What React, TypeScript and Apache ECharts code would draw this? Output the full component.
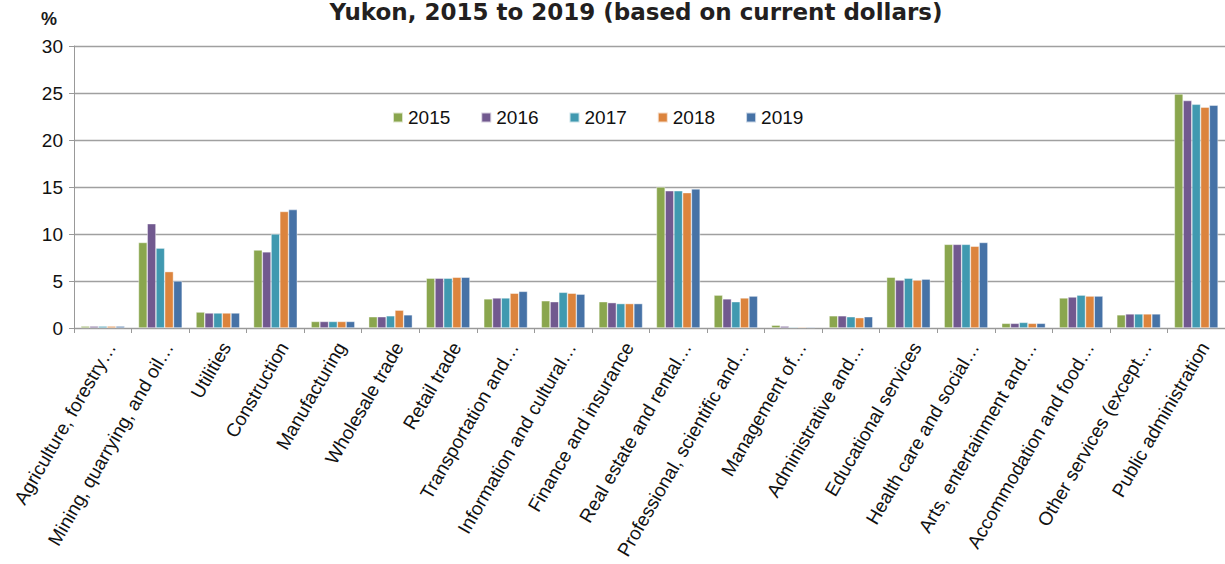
import React, { useEffect, useRef } from "react";
import * as echarts from "echarts";

const categories = [
  "Agriculture, forestry…",
  "Mining, quarrying, and oil…",
  "Utilities",
  "Construction",
  "Manufacturing",
  "Wholesale trade",
  "Retail trade",
  "Transportation and…",
  "Information and cultural…",
  "Finance and insurance",
  "Real estate and rental…",
  "Professional, scientific and…",
  "Management of…",
  "Administrative and…",
  "Educational services",
  "Health care and social…",
  "Arts, entertainment and…",
  "Accommodation and food…",
  "Other services (except…",
  "Public administration",
];

const years = ["2015", "2016", "2017", "2018", "2019"];

const v2015 = [0.2, 9.1, 1.7, 8.3, 0.7, 1.2, 5.3, 3.1, 2.9, 2.8, 15.0, 3.5, 0.3, 1.3, 5.4, 8.9, 0.5, 3.2, 1.4, 24.9];
const v2016 = [0.2, 11.1, 1.6, 8.1, 0.7, 1.2, 5.3, 3.2, 2.8, 2.7, 14.6, 3.1, 0.2, 1.3, 5.1, 8.9, 0.5, 3.3, 1.5, 24.2];
const v2017 = [0.2, 8.5, 1.6, 10.0, 0.7, 1.3, 5.3, 3.2, 3.8, 2.6, 14.6, 2.8, 0.1, 1.2, 5.3, 8.9, 0.6, 3.5, 1.5, 23.8];
const v2018 = [0.2, 6.0, 1.6, 12.4, 0.7, 1.9, 5.4, 3.7, 3.7, 2.6, 14.4, 3.2, 0.1, 1.1, 5.1, 8.7, 0.5, 3.4, 1.5, 23.5];
const v2019 = [0.2, 5.0, 1.6, 12.6, 0.7, 1.4, 5.4, 3.9, 3.6, 2.6, 14.8, 3.4, 0.1, 1.2, 5.2, 9.1, 0.5, 3.4, 1.5, 23.7];

const seriesValues = [v2015, v2016, v2017, v2018, v2019];
const colors = ["#8aa64e", "#71598f", "#4099b0", "#dc843d", "#4672a6"];

const yTicks = { min: 0, max: 30, interval: 5 };

const FONT = "'Liberation Sans', Arial, sans-serif";

export default function App() {
  const ref = useRef<HTMLDivElement>(null);

  useEffect(() => {
    if (!ref.current) return;
    const chart = echarts.init(ref.current, undefined, { renderer: "svg" });
    chart.setOption({
      animation: false,
      backgroundColor: "#ffffff",
      textStyle: { fontFamily: FONT },
      graphic: [
        {
          type: "text",
          x: 636,
          y: 0,
          style: {
            text: "Yukon, 2015 to 2019 (based on current dollars)",
            font: "bold 23px 'DejaVu Sans', sans-serif",
            fill: "#231f20",
            textAlign: "center",
            textVerticalAlign: "top",
          },
        },
        {
          type: "text",
          left: 41,
          top: 10,
          style: {
            text: "%",
            font: "bold 18px 'Liberation Sans', Arial, sans-serif",
            fill: "#1a1a1a",
          },
        },
      ],
      legend: {
        left: 387,
        top: 103,
        itemWidth: 10,
        itemHeight: 10,
        itemGap: 30,
        icon: "rect",
        textStyle: { fontSize: 19, color: "#111", fontFamily: FONT },
        data: years,
      },
      grid: { left: 74, top: 46, width: 1160, height: 282, containLabel: false },
      xAxis: {
        type: "category",
        data: categories,
        axisLine: { lineStyle: { color: "#999999", width: 1 } },
        axisTick: { show: true, alignWithLabel: false, length: 5, lineStyle: { color: "#999999" } },
        axisLabel: {
          rotate: 60,
          interval: 0,
          margin: 11,
          verticalAlign: "top",
          fontSize: 19,
          color: "#111",
          fontFamily: FONT,
        },
      },
      yAxis: {
        type: "value",
        min: yTicks.min,
        max: yTicks.max,
        interval: yTicks.interval,
        axisLine: { show: true, lineStyle: { color: "#999999", width: 1 } },
        axisTick: { show: true, length: 5, lineStyle: { color: "#999999" } },
        splitLine: { lineStyle: { color: "#a0a0a0", width: 1.3 } },
        axisLabel: { fontSize: 19, color: "#111", margin: 11, fontFamily: FONT },
      },
      series: years.map((y, i) => ({
        name: y,
        type: "bar",
        data: seriesValues[i],
        barGap: "0%",
        barCategoryGap: "24%",
        itemStyle: { color: colors[i], borderColor: "rgba(255,255,255,0.7)", borderWidth: 0.6 },
      })),
    });
    return () => chart.dispose();
  }, []);

  return (
    <div
      ref={ref}
      style={{ position: "absolute", left: 0, top: 0, width: 1225, height: 564 }}
    />
  );
}
